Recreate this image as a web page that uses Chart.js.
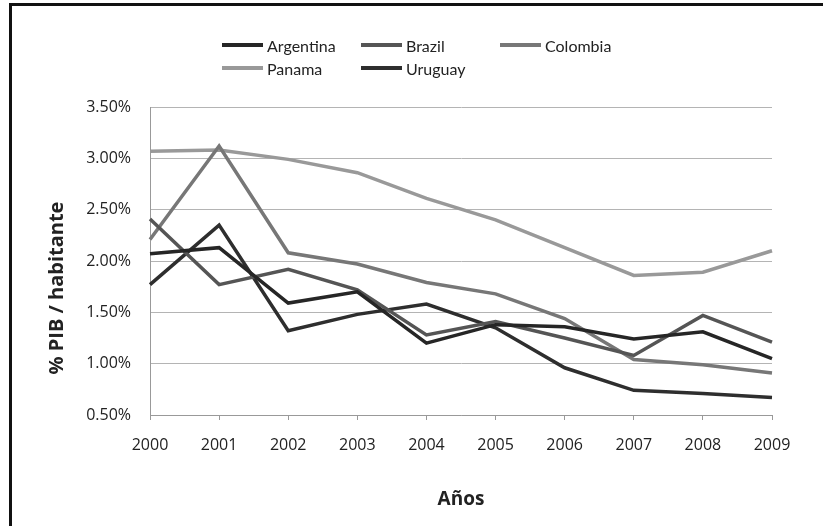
<!DOCTYPE html>
<html>
<head>
<meta charset="utf-8">
<script src="https://cdn.jsdelivr.net/npm/chart.js@4"></script>
<style>
  html, body { margin: 0; padding: 0; background: #fff; }
  #wrap { position: relative; width: 823px; height: 526px; overflow: hidden; }
  #frame {
    position: absolute; left: 9px; top: 3px; width: 900px; height: 600px;
    border-top: 3px solid #111; border-left: 3px solid #111;
  }
  #chart { position: absolute; left: 0; top: 0; }
  #legend { position: absolute; left: 0; top: 0; font-family: Lato, sans-serif; font-size: 16px; color: #222; }
  .item { position: absolute; display: flex; align-items: center; white-space: nowrap; height: 20px; }
  .swatch { display: inline-block; width: 41px; height: 4px; margin-right: 4px; }
</style>
</head>
<body>
<div id="wrap">
  <div id="frame"></div>
  <canvas id="chart" width="823" height="526"></canvas>
  <div id="legend"></div>
</div>
<script>
// =====================
// Data
// =====================
const years = ["2000", "2001", "2002", "2003", "2004", "2005", "2006", "2007", "2008", "2009"]

const argentina = [2.07, 2.13, 1.59, 1.70, 1.20, 1.38, 1.36, 1.24, 1.31, 1.05]
const brazil    = [2.41, 1.77, 1.92, 1.72, 1.28, 1.41, 1.25, 1.08, 1.47, 1.21]
const colombia  = [2.21, 3.12, 2.08, 1.97, 1.79, 1.68, 1.44, 1.04, 0.99, 0.91]
const panama    = [3.07, 3.08, 2.99, 2.86, 2.61, 2.40, 2.13, 1.86, 1.89, 2.10]
const uruguay   = [1.77, 2.35, 1.32, 1.48, 1.58, 1.35, 0.96, 0.74, 0.71, 0.67]

const series = [
  { label: "Argentina", data: argentina, color: "#262626" },
  { label: "Brazil",    data: brazil,    color: "#555555" },
  { label: "Colombia",  data: colombia,  color: "#777777" },
  { label: "Panama",    data: panama,    color: "#999999" },
  { label: "Uruguay",   data: uruguay,   color: "#2e2e2e" }
]

const yTitle = "% PIB / habitante"

// legend slots (3 columns, 2 rows like the original)
const legendSlots = [
  { left: 222, top: 35 },
  { left: 361, top: 35 },
  { left: 500, top: 35 },
  { left: 222, top: 58 },
  { left: 361, top: 58 }
]


// =====================
// Legend
// =====================
function buildLegend() {
  const box = document.getElementById("legend")
  series.forEach((s, i) => {
    const item = document.createElement("div")
    item.className = "item"
    item.style.left = legendSlots[i].left + "px"
    item.style.top = legendSlots[i].top + "px"
    item.innerHTML = `<span class="swatch" style="background:${s.color}"></span>${s.label}`
    box.appendChild(item)
  })
}


// y title drawn by hand, the original sits a bit below the plot centre
const yTitlePlugin = {
  id: "yTitle",
  afterDraw(chart) {
    const ctx = chart.ctx
    ctx.save()
    ctx.translate(57, 288)
    ctx.rotate(-Math.PI / 2)
    ctx.font = "bold 20px 'Open Sans', sans-serif"
    ctx.fillStyle = "#222"
    ctx.textAlign = "center"
    ctx.textBaseline = "middle"
    ctx.fillText(yTitle, 0, 0)
    ctx.restore()
  }
}


// =====================
// Chart
// =====================
function buildChart() {
  new Chart(document.getElementById("chart"), {
    type: "line",
    data: {
      labels: years,
      datasets: series.map(s => ({
        label: s.label,
        data: s.data,
        borderColor: s.color,
        backgroundColor: s.color,
        borderWidth: 3.5,
        pointRadius: 0,
        tension: 0,
        fill: false
      }))
    },
    plugins: [yTitlePlugin],
    options: {
      animation: false,
      responsive: false,
      layout: {
        padding: { left: 40, top: 107, right: 51, bottom: 14 }
      },
      plugins: {
        legend: { display: false },
        tooltip: { enabled: false }
      },
      scales: {
        x: {
          offset: false,
          grid: {
            drawOnChartArea: false,
            color: "#999",
            tickLength: 5
          },
          border: { color: "#999", width: 1 },
          ticks: {
            padding: 16,
            color: "#222",
            font: { family: "'Open Sans', sans-serif", size: 16 },
            maxRotation: 0
          },
          title: {
            display: true,
            text: "Años",
            color: "#222",
            font: { family: "'Open Sans', sans-serif", size: 19, weight: "bold" },
            padding: { top: 4, bottom: 1 }
          },
          afterFit: scale => { scale.height = 97 }
        },
        y: {
          min: 0.5,
          max: 3.5,
          grid: {
            color: "#b4b4b4",
            drawTicks: false
          },
          border: { color: "#999", width: 1 },
          ticks: {
            stepSize: 0.5,
            padding: 19,
            color: "#222",
            font: { family: "'Open Sans', sans-serif", size: 16 },
            callback: v => v.toFixed(2) + "%"
          },
          afterFit: scale => { scale.width = 110 }
        }
      }
    }
  })
}


// =====================
// Start
// =====================
buildLegend()
buildChart()
</script>
</body>
</html>
